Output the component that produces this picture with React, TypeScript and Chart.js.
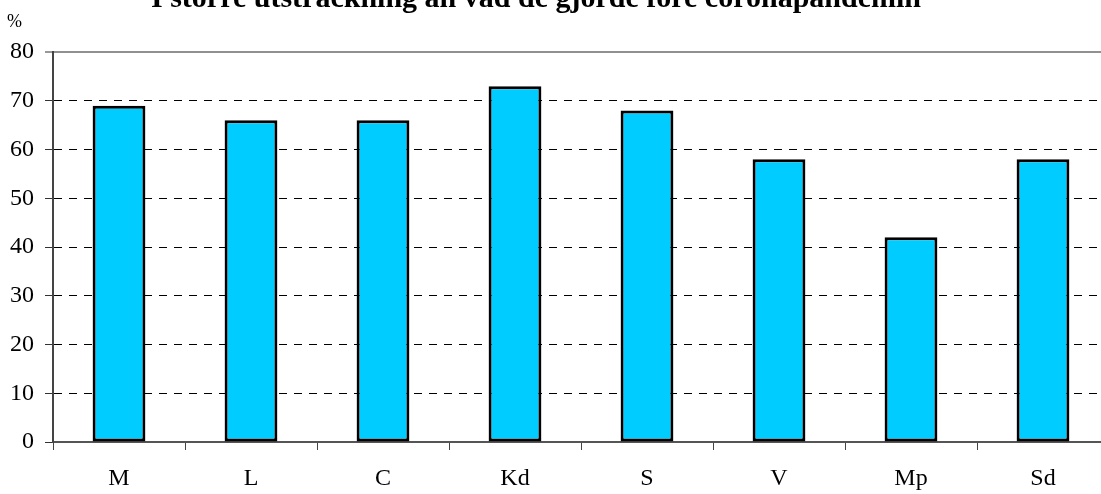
import React, { useEffect, useRef } from "react";
import { Chart, registerables } from "chart.js";

Chart.register(...registerables);

const categories = ["M", "L", "C", "Kd", "S", "V", "Mp", "Sd"];
const values = [69, 66, 66, 73, 68, 58, 42, 58];
const yMin = 0;
const yMax = 80;
const yStep = 10;
const titleText = "I större utsträckning än vad de gjorde före coronapandemin";
const unitText = "%";

const FONT = "'Liberation Serif', 'Times New Roman', serif";

const textPlugin = {
  id: "extraText",
  afterDraw(chart: any) {
    const ctx = chart.ctx;
    ctx.save();
    ctx.fillStyle = "#000";
    ctx.font = `bold 30px ${FONT}`;
    ctx.textAlign = "center";
    ctx.textBaseline = "alphabetic";
    ctx.fillText(titleText, 536, 7);
    ctx.font = `18px ${FONT}`;
    ctx.textAlign = "left";
    ctx.fillText(unitText, 7, 27);
    ctx.restore();
  },
};

export default function App() {
  const ref = useRef<HTMLCanvasElement | null>(null);

  useEffect(() => {
    document.body.style.margin = "0";
    const canvas = ref.current!;
    const chart = new Chart(canvas, {
      type: "bar",
      data: {
        labels: categories,
        datasets: [
          {
            data: values,
            backgroundColor: "#00CCFF",
            borderColor: "#000000",
            borderWidth: 3,
            borderSkipped: false,
            categoryPercentage: 1,
            barPercentage: 0.4,
          },
        ],
      },
      options: {
        animation: false,
        responsive: false,
        devicePixelRatio: 1,
        layout: { padding: { top: 52, right: 11, bottom: 0, left: 0 } },
        plugins: {
          legend: { display: false },
          title: { display: false },
          tooltip: { enabled: false },
        },
        scales: {
          x: {
            afterFit: (scale: any) => {
              scale.height = 52;
            },
            grid: {
              display: true,
              drawOnChartArea: false,
              drawTicks: true,
              tickLength: 8,
              tickColor: "#444444",
              tickWidth: 1,
              offset: true,
            },
            border: { display: true, color: "#555555", width: 2 },
            ticks: {
              color: "#000",
              font: { family: FONT, size: 24 },
              padding: 14,
              maxRotation: 0,
            },
          },
          y: {
            min: yMin,
            max: yMax,
            afterFit: (scale: any) => {
              scale.width = 53;
            },
            grid: {
              color: (c: any) =>
                c.tick && c.tick.value === yMax
                  ? "#909090"
                  : c.tick && c.tick.value === yMin
                  ? "rgba(0,0,0,0)"
                  : "#000000",
              lineWidth: (c: any) => (c.tick && c.tick.value === yMax ? 2 : 1),
              drawTicks: true,
              tickLength: 8,
              tickColor: "#333333",
              tickWidth: 1,
            },
            border: {
              display: true,
              color: "#444444",
              width: 2,
              dash: (c: any) => (c.tick && c.tick.value === yMax ? [] : [8, 7]),
            },
            ticks: {
              stepSize: yStep,
              color: "#000",
              font: { family: FONT, size: 24 },
              padding: 11,
            },
          },
        },
      },
      plugins: [textPlugin],
    });
    return () => chart.destroy();
  }, []);

  return (
    <div
      style={{
        position: "fixed",
        left: 0,
        top: 0,
        width: 1101,
        height: 494,
        overflow: "hidden",
        background: "#fff",
      }}
    >
      <canvas ref={ref} width={1120} height={494} style={{ display: "block" }} />
    </div>
  );
}
